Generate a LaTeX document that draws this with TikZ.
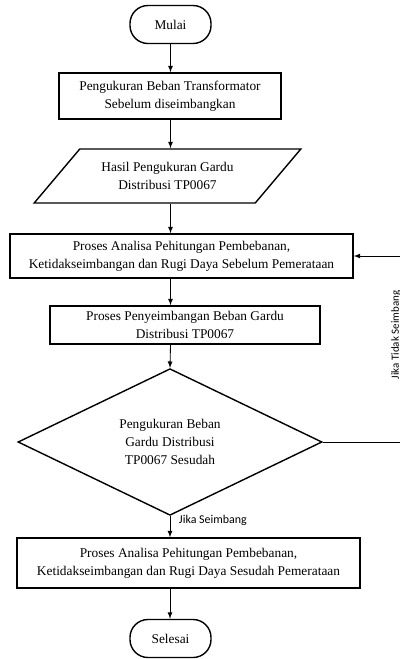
\documentclass[tikz,border=0pt]{standalone}
\usepackage{fontspec}
\setmainfont{Liberation Serif}
\newfontfamily\ketfont{Carlito}
\usetikzlibrary{shapes.geometric,arrows}

\tikzset{
	kotak/.style={draw,line width=1pt,align=center,font=\fontsize{9.5}{12.8}\selectfont},
	terminal/.style={kotak,rounded corners=0.45cm,minimum width=2.025cm,minimum height=0.95cm},
	panah/.style={->,>=latex,line width=0.6pt}
}

\begin{document}
\begin{tikzpicture}[x=0.025cm,y=-0.025cm]
	\useasboundingbox (0,0) rectangle (400,659);
	% alur utama
	\node[terminal] (mulai) at (170.5,24.5){Mulai};
	\node[kotak,minimum width=5.55cm,minimum height=1.15cm] (ukur) at (170,96){Pengukuran Beban Transformator\\Sebelum diseimbangkan};
	\node[kotak,trapezium,trapezium left angle=45,trapezium right angle=135,trapezium stretches=true,minimum width=6.675cm,minimum height=1.35cm] (hasil) at (167.5,176){Hasil Pengukuran Gardu\\Distribusi TP0067};
	\node[kotak,minimum width=8.575cm,minimum height=1.1cm] (analisa1) at (181.5,256){Proses Analisa Pehitungan Pembebanan,\\Ketidakseimbangan dan Rugi Daya Sebelum Pemerataan};
	\node[kotak,minimum width=6.75cm,minimum height=0.95cm] (seimbang) at (185,325){Proses Penyeimbangan Beban Gardu\\Distribusi TP0067};
	\node[kotak,diamond,inner sep=0pt,minimum width=7.6cm,minimum height=3.35cm] (cek) at (170,442){Pengukuran Beban\\Gardu Distribusi\\TP0067 Sesudah};
	\node[kotak,minimum width=8.575cm,minimum height=1.25cm] (analisa2) at (188.5,563){Proses Analisa Pehitungan Pembebanan,\\Ketidakseimbangan dan Rugi Daya Sesudah Pemerataan};
	\node[terminal] (selesai) at (170.5,638.5){Selesai};
	% panah
	\draw[panah] (mulai.south) -- (mulai.south |- ukur.north);
	\draw[panah] (mulai.south |- ukur.south) -- (mulai.south |- hasil.north);
	\draw[panah] (mulai.south |- hasil.south) -- (mulai.south |- analisa1.north);
	\draw[panah] (mulai.south |- analisa1.south) -- (mulai.south |- seimbang.north);
	\draw[panah] (mulai.south |- seimbang.south) -- (cek.north);
	\draw[panah] (cek.south) -- (cek.south |- analisa2.north);
	\draw[panah] (cek.south |- analisa2.south) -- (cek.south |- selesai.north);
	% umpan balik
	\draw[panah] (cek.east) -- ++(80,0) coordinate (balik) |- (analisa1.east);
	\node[font=\ketfont\fontsize{7.8}{9}\selectfont,rotate=90] (tidak) at (396,335){Jika Tidak Seimbang};
	\node[font=\ketfont\fontsize{8.5}{10}\selectfont,anchor=west] (ya) at (174,520){Jika Seimbang};
\end{tikzpicture}
\end{document}
